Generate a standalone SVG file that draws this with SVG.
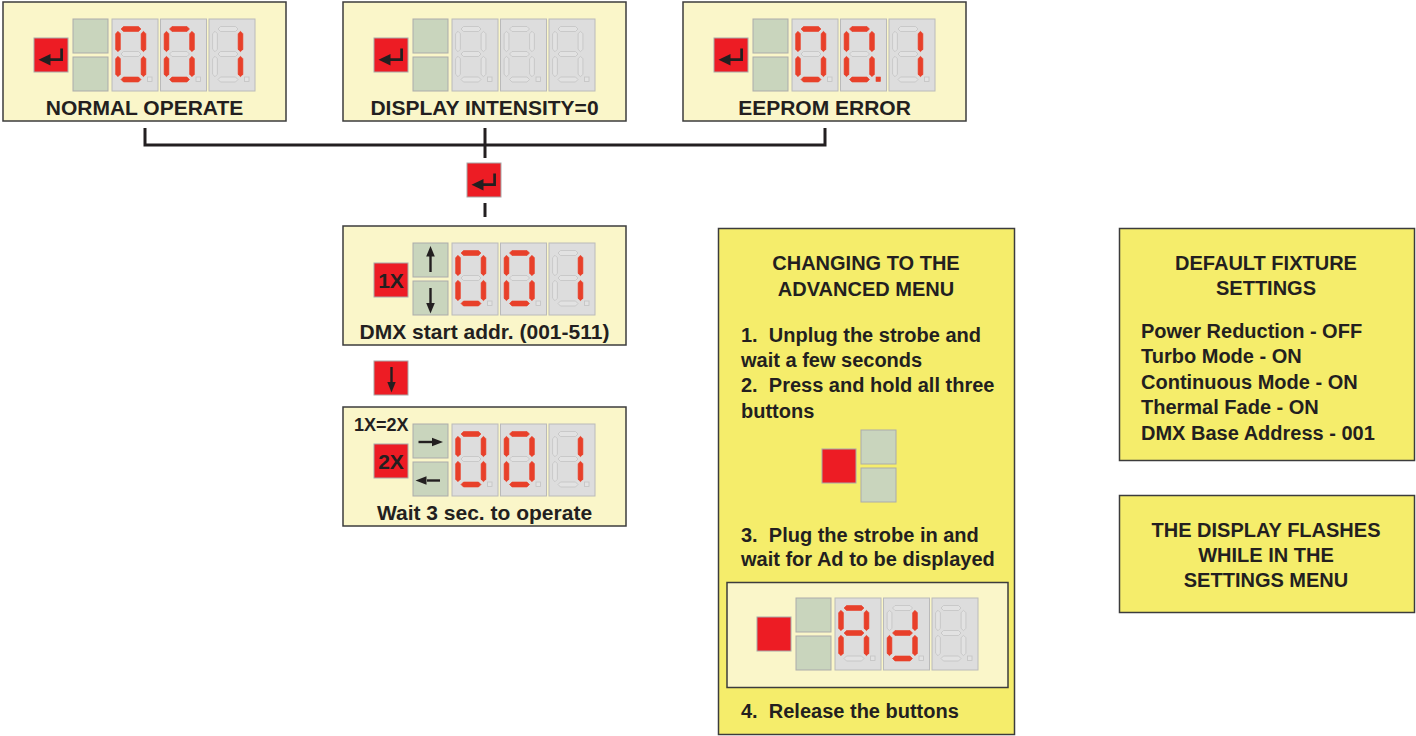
<svg xmlns="http://www.w3.org/2000/svg" xmlns:xlink="http://www.w3.org/1999/xlink" width="1416" height="736" viewBox="0 0 1416 736">
<style>
.panel{fill:#faf6c9;stroke:#3c3c3c;stroke-width:1.5}
.box{fill:#f5ed6b;stroke:#3c3c3c;stroke-width:1.5}
.red{fill:#ed1c24;stroke:#a8a8a8;stroke-width:1}
.grn{fill:#c9d5bd;stroke:#ababab;stroke-width:1}
.dig{fill:#dddddd;stroke:#bababa;stroke-width:1}
.on{fill:#e8402a;stroke:#e8402a;stroke-width:0.6}
.off{fill:#e2e2e2;stroke:#c3c3c3;stroke-width:0.8}
.ink{fill:#231f20;stroke:none}
.line{fill:none;stroke:#231f20;stroke-width:3}
.arr{fill:none;stroke:#231f20;stroke-width:2.4}
text{font-family:"Liberation Sans",Arial,sans-serif;font-weight:bold;fill:#231f20}
.lbl{font-size:21px;text-anchor:middle}
.t{font-size:20px}
.tc{font-size:20px;text-anchor:middle}
</style>
<defs>
<polygon id="h" points="-10,0 -7.5,-2.5 7.5,-2.5 10,0 7.5,2.5 -7.5,2.5"/>
<polygon id="v" points="0,-10.2 2.4,-7.8 2.4,7.8 0,10.2 -2.4,7.8 -2.4,-7.8"/>
<g id="d0">
<rect class="dig" x="0" y="0" width="46" height="72"/>
<use href="#h" x="19" y="10" class="on"/><use href="#v" x="31.5" y="22.5" class="on"/><use href="#v" x="31.5" y="47.5" class="on"/><use href="#h" x="19" y="60.5" class="on"/><use href="#v" x="6" y="47.5" class="on"/><use href="#v" x="6" y="22.5" class="on"/><use href="#h" x="19" y="35" class="off"/><rect x="35.5" y="58" width="4.5" height="4.5" class="off"/>
</g>
<g id="d0p">
<rect class="dig" x="0" y="0" width="46" height="72"/>
<use href="#h" x="19" y="10" class="on"/><use href="#v" x="31.5" y="22.5" class="on"/><use href="#v" x="31.5" y="47.5" class="on"/><use href="#h" x="19" y="60.5" class="on"/><use href="#v" x="6" y="47.5" class="on"/><use href="#v" x="6" y="22.5" class="on"/><use href="#h" x="19" y="35" class="off"/><rect x="35.5" y="58" width="4.5" height="4.5" class="on"/>
</g>
<g id="d1">
<rect class="dig" x="0" y="0" width="46" height="72"/>
<use href="#h" x="19" y="10" class="off"/><use href="#v" x="31.5" y="22.5" class="on"/><use href="#v" x="31.5" y="47.5" class="on"/><use href="#h" x="19" y="60.5" class="off"/><use href="#v" x="6" y="47.5" class="off"/><use href="#v" x="6" y="22.5" class="off"/><use href="#h" x="19" y="35" class="off"/><rect x="35.5" y="58" width="4.5" height="4.5" class="off"/>
</g>
<g id="dx">
<rect class="dig" x="0" y="0" width="46" height="72"/>
<use href="#h" x="19" y="10" class="off"/><use href="#v" x="31.5" y="22.5" class="off"/><use href="#v" x="31.5" y="47.5" class="off"/><use href="#h" x="19" y="60.5" class="off"/><use href="#v" x="6" y="47.5" class="off"/><use href="#v" x="6" y="22.5" class="off"/><use href="#h" x="19" y="35" class="off"/><rect x="35.5" y="58" width="4.5" height="4.5" class="off"/>
</g>
<g id="dA">
<rect class="dig" x="0" y="0" width="46" height="72"/>
<use href="#h" x="19" y="10" class="on"/><use href="#v" x="31.5" y="22.5" class="on"/><use href="#v" x="31.5" y="47.5" class="on"/><use href="#h" x="19" y="60.5" class="off"/><use href="#v" x="6" y="47.5" class="on"/><use href="#v" x="6" y="22.5" class="on"/><use href="#h" x="19" y="35" class="on"/><rect x="35.5" y="58" width="4.5" height="4.5" class="off"/>
</g>
<g id="dd">
<rect class="dig" x="0" y="0" width="46" height="72"/>
<use href="#h" x="19" y="10" class="off"/><use href="#v" x="31.5" y="22.5" class="on"/><use href="#v" x="31.5" y="47.5" class="on"/><use href="#h" x="19" y="60.5" class="on"/><use href="#v" x="6" y="47.5" class="on"/><use href="#v" x="6" y="22.5" class="off"/><use href="#h" x="19" y="35" class="on"/><rect x="35.5" y="58" width="4.5" height="4.5" class="off"/>
</g>
<g id="enter">
<rect class="red" x="0" y="0" width="34" height="34"/>
<path class="arr" d="M27.6 10.5 V21.7 H15" style="stroke-width:2.7"/>
<polygon class="ink" points="4.5,21.7 16.5,16 16.5,27.4"/>
</g>
<g id="btns">
<rect class="grn" x="70" y="17" width="35" height="34"/>
<rect class="grn" x="70" y="55" width="35" height="34"/>
</g>
</defs>

<g id="normal-operate" transform="translate(3,2)">
<rect class="panel" x="0" y="0" width="283" height="119"/>
<use href="#enter" x="31" y="36"/>
<use href="#btns"/>
<use href="#d0" x="109" y="17"/><use href="#d0" x="157.5" y="17"/><use href="#d1" x="206" y="17"/>
<text class="lbl" x="141.5" y="113">NORMAL OPERATE</text>
</g>

<g id="display-intensity" transform="translate(343,2)">
<rect class="panel" x="0" y="0" width="283" height="119"/>
<use href="#enter" x="31" y="36"/>
<use href="#btns"/>
<use href="#dx" x="109" y="17"/><use href="#dx" x="157.5" y="17"/><use href="#dx" x="206" y="17"/>
<text class="lbl" x="141.5" y="113">DISPLAY INTENSITY=0</text>
</g>

<g id="eeprom-error" transform="translate(683,2)">
<rect class="panel" x="0" y="0" width="283" height="119"/>
<use href="#enter" x="31" y="36"/>
<use href="#btns"/>
<use href="#d0" x="109" y="17"/><use href="#d0p" x="157.5" y="17"/><use href="#d1" x="206" y="17"/>
<text class="lbl" x="141.5" y="113">EEPROM ERROR</text>
</g>

<g id="connectors">
<path class="line" d="M145 128 V145 H825 V128"/>
<path class="line" d="M485 128 V158"/>
<path class="line" d="M485 203 V217"/>
</g>

<g id="enter-button" transform="translate(467,163)">
<use href="#enter"/>
</g>

<g id="dmx-start" transform="translate(343,226)">
<rect class="panel" x="0" y="0" width="283" height="119"/>
<rect class="red" x="31" y="37" width="34" height="34"/>
<text x="48" y="62" style="font-size:21px;text-anchor:middle">1X</text>
<use href="#btns"/>
<path class="arr" d="M87.5 28 V46"/>
<polygon class="ink" points="87.5,20 83.2,30.5 91.8,30.5"/>
<path class="arr" d="M87.5 62 V78"/>
<polygon class="ink" points="87.5,87.5 83.2,77 91.8,77"/>
<use href="#d0" x="109" y="17"/><use href="#d0" x="157.5" y="17"/><use href="#d1" x="206" y="17"/>
<text class="lbl" x="141.5" y="113">DMX start addr. (001-511)</text>
</g>

<g id="down-button" transform="translate(374,361)">
<rect class="red" x="0" y="0" width="34" height="34"/>
<path class="arr" d="M17.5 6 V23"/>
<polygon class="ink" points="17.5,31.5 13.3,21 21.7,21"/>
</g>

<g id="wait-operate" transform="translate(343,407)">
<rect class="panel" x="0" y="0" width="283" height="119"/>
<text x="11" y="24" style="font-size:18px">1X=2X</text>
<rect class="red" x="31" y="37" width="34" height="34"/>
<text x="48" y="62" style="font-size:21px;text-anchor:middle">2X</text>
<use href="#btns"/>
<path class="arr" d="M75.5 35 H89"/>
<polygon class="ink" points="100,35 89,30.8 89,39.2"/>
<path class="arr" d="M84 73.5 H97"/>
<polygon class="ink" points="72.5,73.5 83.5,69.3 83.5,77.7"/>
<use href="#d0" x="109" y="17"/><use href="#d0" x="157.5" y="17"/><use href="#d1" x="206" y="17"/>
<text class="lbl" x="141.5" y="113">Wait 3 sec. to operate</text>
</g>

<g id="advanced-menu">
<rect class="box" x="718.5" y="228.5" width="296" height="506"/>
<text class="tc" x="866" y="270">CHANGING TO THE</text>
<text class="tc" x="866" y="296">ADVANCED MENU</text>
<text class="t" x="741" y="342" xml:space="preserve">1.  Unplug the strobe and</text>
<text class="t" x="741" y="367">wait a few seconds</text>
<text class="t" x="741" y="392" xml:space="preserve">2.  Press and hold all three</text>
<text class="t" x="741" y="418">buttons</text>
<g transform="translate(791,413)">
<rect class="red" x="31" y="36" width="34" height="34"/>
<use href="#btns"/>
</g>
<text class="t" x="741" y="542" xml:space="preserve">3.  Plug the strobe in and</text>
<text class="t" x="741" y="566">wait for Ad to be displayed</text>
<rect class="panel" x="727" y="582.5" width="281" height="105"/>
<g transform="translate(726,581)">
<rect class="red" x="31" y="36" width="34" height="34"/>
<use href="#btns"/>
<use href="#dA" x="109" y="17"/><use href="#dd" x="157.5" y="17"/><use href="#dx" x="206" y="17"/>
</g>
<text class="t" x="741" y="718" xml:space="preserve">4.  Release the buttons</text>
</g>

<g id="default-settings">
<rect class="box" x="1119.5" y="228.5" width="295" height="232"/>
<text class="tc" x="1266" y="270">DEFAULT FIXTURE</text>
<text class="tc" x="1266" y="295">SETTINGS</text>
<text class="t" x="1141" y="338">Power Reduction - OFF</text>
<text class="t" x="1141" y="363">Turbo Mode - ON</text>
<text class="t" x="1141" y="389">Continuous Mode - ON</text>
<text class="t" x="1141" y="414">Thermal Fade - ON</text>
<text class="t" x="1141" y="440">DMX Base Address - 001</text>
</g>

<g id="display-flashes">
<rect class="box" x="1119.5" y="495.5" width="295" height="117"/>
<text class="tc" x="1266" y="537">THE DISPLAY FLASHES</text>
<text class="tc" x="1266" y="562">WHILE IN THE</text>
<text class="tc" x="1266" y="587">SETTINGS MENU</text>
</g>
</svg>
